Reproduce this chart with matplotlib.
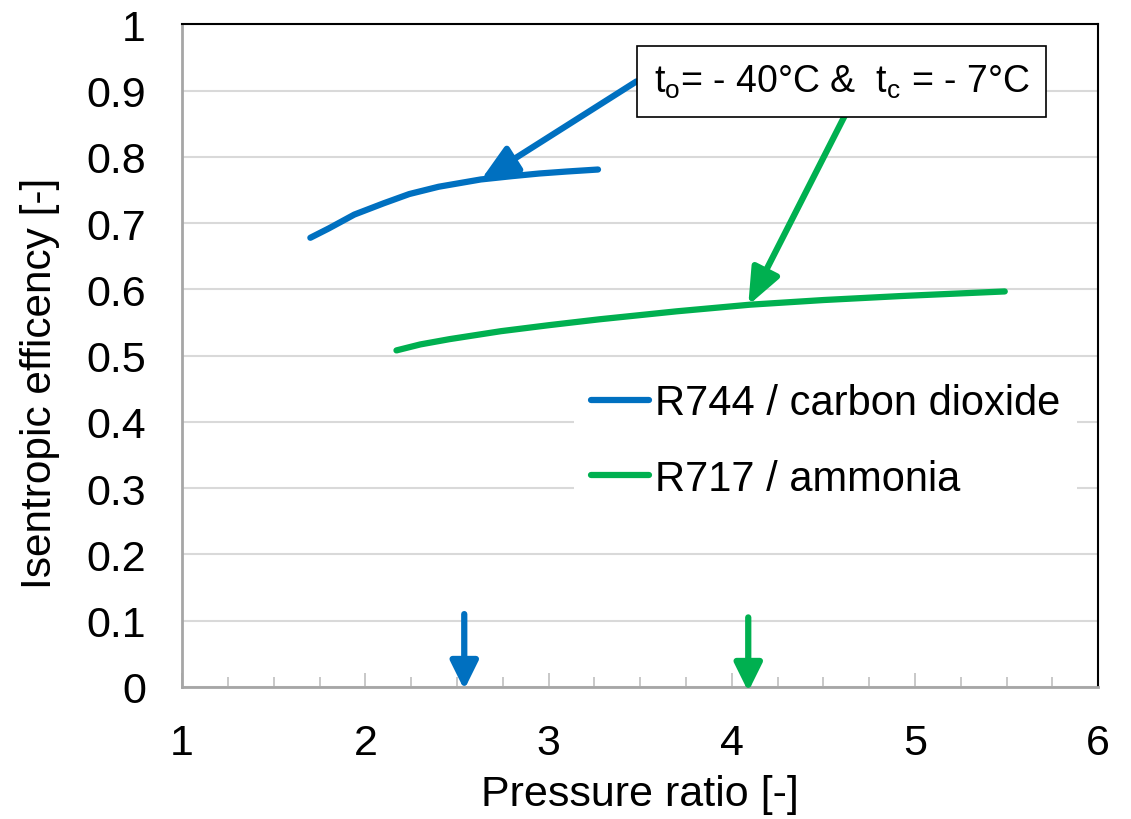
import matplotlib
matplotlib.use('Agg')
import matplotlib.pyplot as plt
from matplotlib.ticker import MultipleLocator

plt.rcParams['font.family'] = ['Liberation Sans', 'DejaVu Sans']
plt.rcParams['mathtext.fontset'] = 'custom'
plt.rcParams['mathtext.rm'] = 'Liberation Sans'

# values
co2_ratio = [1.70, 1.80, 1.94, 2.10, 2.24, 2.40, 2.63, 2.80, 2.95, 3.10, 3.27]
co2_eff = [0.678, 0.692, 0.713, 0.730, 0.744, 0.755, 0.766, 0.771, 0.775, 0.778, 0.781]
nh3_ratio = [2.17, 2.30, 2.46, 2.74, 3.00, 3.28, 3.70, 4.10, 4.50, 4.92, 5.49]
nh3_eff = [0.508, 0.517, 0.525, 0.537, 0.546, 0.555, 0.567, 0.577, 0.584, 0.590, 0.597]
labels = ['R744 / carbon dioxide', 'R717 / ammonia']
opt_ratio = [2.54, 4.09]

blue = '#0070C0'
green = '#00B050'

fig = plt.figure(figsize=(11.31, 8.2), dpi=100)
ax = fig.add_axes([0.161, 0.161, 0.810, 0.808])

ax.plot(co2_ratio, co2_eff, color=blue, lw=4.5, solid_capstyle='round', label=labels[0], zorder=3)
ax.plot(nh3_ratio, nh3_eff, color=green, lw=4.5, solid_capstyle='round', label=labels[1], zorder=3)

ax.set_xlim(1, 6)
ax.set_ylim(0, 1)
ax.xaxis.set_major_locator(MultipleLocator(1))
ax.xaxis.set_minor_locator(MultipleLocator(0.25))
ax.set_yticks([i / 10 for i in range(11)])
ax.set_yticklabels(['0', '0.1', '0.2', '0.3', '0.4', '0.5', '0.6', '0.7', '0.8', '0.9', '1'])
ax.grid(axis='y', color='#D9D9D9', lw=1.5, zorder=0)
ax.set_axisbelow(True)

ax.tick_params(axis='x', which='major', direction='in', length=10, width=1.2, color='#BFBFBF', labelsize=31, pad=26)
ax.tick_params(axis='x', which='minor', direction='in', length=7, width=1.2, color='#BFBFBF')
ax.tick_params(axis='y', length=0, labelsize=31, pad=26)

for s in ['left', 'bottom']:
    ax.spines[s].set_color('#A6A6A6')
    ax.spines[s].set_linewidth(2)
for s in ['top', 'right']:
    ax.spines[s].set_color('black')
    ax.spines[s].set_linewidth(1.5)

ax.set_xlabel('Pressure ratio [-]', fontsize=31, labelpad=8)
ax.set_ylabel('Isentropic efficency [-]', fontsize=30.5)
ax.yaxis.set_label_coords(-0.133, 0.46)

leg = ax.legend(loc='upper left', bbox_to_anchor=(0.405, 0.515), fontsize=30,
                frameon=True, facecolor='white', edgecolor='none', framealpha=1,
                fancybox=False, handlelength=1.4, handletextpad=0.15,
                labelspacing=0.85, borderpad=0.4)
for line in leg.get_lines():
    line.set_linewidth(4.5)

# condition label with arrows to the curves
ax.text(4.60, 0.914, r'$\mathregular{t_o}$= - 40°C &  $\mathregular{t_c}$ = - 7°C',
        fontsize=27, ha='center', va='center', zorder=5,
        bbox=dict(boxstyle='square,pad=0.45', facecolor='white', edgecolor='black', lw=1.2))
ax.annotate('', xy=(2.63, 0.765), xytext=(3.48, 0.914),
            arrowprops=dict(arrowstyle='-|>,head_length=1.1,head_width=0.45', color=blue, lw=4.5,
                            mutation_scale=20, shrinkA=0, shrinkB=0), zorder=4)
ax.annotate('', xy=(4.09, 0.576), xytext=(4.62, 0.864),
            arrowprops=dict(arrowstyle='-|>,head_length=1.1,head_width=0.45', color=green, lw=4.5,
                            mutation_scale=20, shrinkA=0, shrinkB=0), zorder=4)

# optimum pressure ratio markers
for xr, c, top, tip in zip(opt_ratio, [blue, green], [0.11, 0.105], [-0.004, -0.007]):
    ax.annotate('', xy=(xr, tip), xytext=(xr, top), annotation_clip=False,
                arrowprops=dict(arrowstyle='-|>,head_length=0.85,head_width=0.42', color=c, lw=4.5,
                                mutation_scale=20, shrinkA=0, shrinkB=0, clip_on=False), zorder=4)

fig.savefig('out.png', dpi=100)
